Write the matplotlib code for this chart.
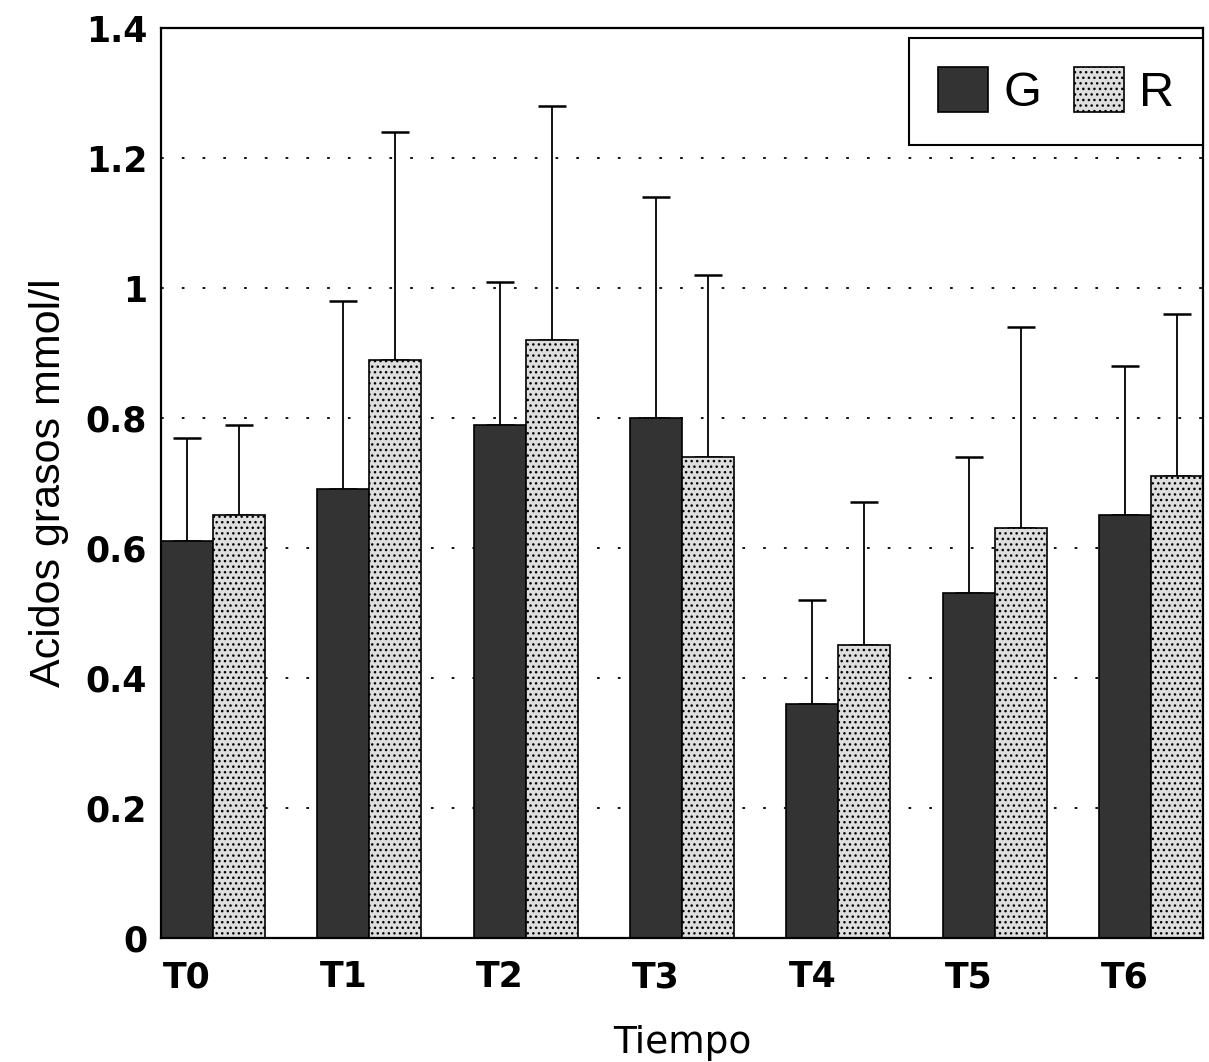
import matplotlib.pyplot as plt
import numpy as np

# data
tiempos = ['T0', 'T1', 'T2', 'T3', 'T4', 'T5', 'T6']
g_media = [0.61, 0.69, 0.79, 0.80, 0.36, 0.53, 0.65]
g_de = [0.16, 0.29, 0.22, 0.34, 0.16, 0.21, 0.23]
r_media = [0.65, 0.89, 0.92, 0.74, 0.45, 0.63, 0.71]
r_de = [0.14, 0.35, 0.36, 0.28, 0.22, 0.31, 0.25]
y_ticks = [0, 0.2, 0.4, 0.6, 0.8, 1.0, 1.2, 1.4]
y_labels = ['0', '0.2', '0.4', '0.6', '0.8', '1', '1.2', '1.4']

narrow = 'Liberation Sans'

fig = plt.figure(figsize=(12.09, 10.62), dpi=100)
ax = fig.add_axes([0.1332, 0.1168, 0.8618, 0.8568])

x = np.arange(len(tiempos))
w = 0.333

#bars
ax.bar(x - w / 2, g_media, w, color='#333333', edgecolor='black',
       linewidth=1.2, label='G', zorder=2)
ax.bar(x + w / 2, r_media, w, color='#dedede', edgecolor='black',
       hatch='...', linewidth=1.2, label='R', zorder=2)

#upper error bars only
ax.errorbar(x - w / 2, g_media, yerr=[np.zeros(len(g_de)), g_de], fmt='none',
            ecolor='black', elinewidth=1.3, capsize=10, capthick=1.8, zorder=1)
ax.errorbar(x + w / 2, r_media, yerr=[np.zeros(len(r_de)), r_de], fmt='none',
            ecolor='black', elinewidth=1.3, capsize=10, capthick=1.8, zorder=1)

ax.set_xlim(-w, len(tiempos) - 1 + w)
ax.set_ylim(0, 1.4)

#dotted horizontal grid
ax.set_axisbelow(True)
ax.yaxis.grid(True, linestyle=(0, (1.5, 10)), color='black', linewidth=1.3)

ax.set_yticks(y_ticks)
ax.set_yticklabels(y_labels, fontsize=25, fontweight='bold')
ax.set_xticks(x - w / 2)
ax.set_xticklabels(tiempos, fontsize=25, fontweight='bold')
ax.tick_params(axis='y', length=0, pad=10)
ax.tick_params(axis='x', length=0, pad=16)

for s in ax.spines.values():
    s.set_linewidth(1.6)

ax.set_ylabel('Acidos grasos mmol/l', fontsize=31, family=narrow, labelpad=12)
ax.set_xlabel('Tiempo', fontsize=27, labelpad=22)

leg = ax.legend(loc='upper right', bbox_to_anchor=(1.0, 0.989), ncol=2,
                prop={'family': narrow, 'size': 35},
                handlelength=1.03, handleheight=1.03, handletextpad=0.31,
                columnspacing=0.66, borderpad=0.6, borderaxespad=0,
                fancybox=False, framealpha=1, edgecolor='black')
leg.get_frame().set_linewidth(1.5)

plt.savefig('out.png', dpi=100)
